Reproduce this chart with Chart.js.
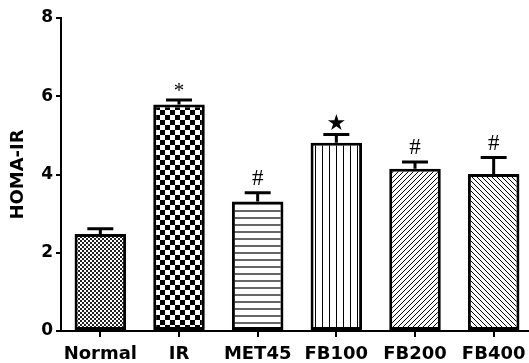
<!DOCTYPE html>
<html>
<head>
<meta charset="utf-8">
<script src="https://cdn.jsdelivr.net/npm/chart.js@4"></script>
<style>
  html, body { margin: 0; padding: 0; background: #fff; overflow: hidden; }
</style>
</head>
<body>
<canvas id="homaChart" width="533" height="363"></canvas>
<script>
// HOMA-IR per group, mean and SEM
const groups = ["Normal", "IR", "MET45", "FB100", "FB200", "FB400"];
const homaMean = [2.48, 5.79, 3.31, 4.81, 4.15, 4.01];
const homaSem = [0.17, 0.15, 0.26, 0.25, 0.21, 0.46];
const sigMarks = ["", "*", "#", "★", "#", "#"];
const yTicks = [0, 2, 4, 6, 8];

const canvas = document.getElementById("homaChart");

// small tiles used as bar fills
function makePattern(w, h, paint) {
  const tile = document.createElement("canvas");
  tile.width = w;
  tile.height = h;
  const g = tile.getContext("2d");
  g.fillStyle = "#fff";
  g.fillRect(0, 0, w, h);
  g.fillStyle = "#000";
  g.strokeStyle = "#000";
  paint(g, w, h);
  return canvas.getContext("2d").createPattern(tile, "repeat");
}

const fills = [
  // fine checks
  makePattern(4, 4, (g) => {
    g.fillStyle = "#222";
    g.fillRect(0, 0, 2, 2);
    g.fillRect(2, 2, 2, 2);
  }),
  // big checks
  makePattern(10, 10, (g) => {
    g.fillRect(0, 0, 5, 5);
    g.fillRect(5, 5, 5, 5);
  }),
  // horizontal lines
  makePattern(8, 7, (g) => {
    g.fillStyle = "#666";
    g.fillRect(0, 0, 8, 2);
  }),
  // vertical lines
  makePattern(7, 8, (g) => {
    g.fillRect(0, 0, 1, 8);
  }),
  // forward hatch
  makePattern(5, 5, (g) => {
    g.lineWidth = 1;
    g.beginPath();
    g.moveTo(0, 5); g.lineTo(5, 0);
    g.moveTo(-1, 1); g.lineTo(1, -1);
    g.moveTo(4, 6); g.lineTo(6, 4);
    g.stroke();
  }),
  // back hatch
  makePattern(5, 5, (g) => {
    g.lineWidth = 1;
    g.beginPath();
    g.moveTo(0, 0); g.lineTo(5, 5);
    g.moveTo(-1, 4); g.lineTo(1, 6);
    g.moveTo(4, -1); g.lineTo(6, 1);
    g.stroke();
  }),
];

// upper error bar + significance mark over each bar
const errorBarsAndMarks = {
  id: "errorBarsAndMarks",
  afterDatasetsDraw(chart) {
    const ctx = chart.ctx;
    const yScale = chart.scales.y;
    const bars = chart.getDatasetMeta(0).data;
    const markStyle = {
      "*": { font: "21px 'Liberation Serif'", gap: 2 },
      "#": { font: "23px 'Liberation Serif'", gap: 6 },
      "★": { font: "22px 'DejaVu Sans'", gap: 3 },
    };
    ctx.save();
    ctx.strokeStyle = "#000";
    ctx.fillStyle = "#000";
    ctx.lineWidth = 3;
    bars.forEach((bar, i) => {
      const top = yScale.getPixelForValue(homaMean[i]);
      const capY = yScale.getPixelForValue(homaMean[i] + homaSem[i]);
      ctx.beginPath();
      ctx.moveTo(bar.x, top);
      ctx.lineTo(bar.x, capY + 1.5);
      ctx.moveTo(bar.x - 13, capY + 1.5);
      ctx.lineTo(bar.x + 13, capY + 1.5);
      ctx.stroke();

      const mark = sigMarks[i];
      if (mark) {
        ctx.font = markStyle[mark].font;
        ctx.textAlign = "center";
        ctx.textBaseline = "alphabetic";
        ctx.fillText(mark, bar.x, capY - markStyle[mark].gap);
      }
    });
    ctx.restore();
  },
};

const axisFont = "'DejaVu Sans', 'Liberation Sans', sans-serif";

new Chart(canvas, {
  type: "bar",
  data: {
    labels: groups,
    datasets: [
      {
        data: homaMean,
        backgroundColor: fills,
        borderColor: "#000",
        borderWidth: 3,
        borderSkipped: false,
        categoryPercentage: 1,
        barPercentage: 0.655,
      },
    ],
  },
  options: {
    responsive: false,
    animation: false,
    layout: { padding: { top: 18, right: 0, bottom: 0, left: 0 } },
    plugins: {
      legend: { display: false },
      tooltip: { enabled: false },
    },
    scales: {
      x: {
        grid: {
          display: true,
          offset: false,
          drawOnChartArea: false,
          drawTicks: true,
          tickLength: 6,
          color: "#000",
          lineWidth: 2,
        },
        border: { display: true, color: "#000", width: 2 },
        ticks: {
          color: "#000",
          padding: 7,
          autoSkip: false,
          maxRotation: 0,
          font: { family: axisFont, size: 18, weight: "bold" },
        },
        afterFit(scale) {
          scale.height = 32;
        },
      },
      y: {
        min: yTicks[0],
        max: yTicks[yTicks.length - 1],
        afterBuildTicks(scale) {
          scale.ticks = yTicks.map((v) => ({ value: v }));
        },
        grid: {
          display: true,
          drawOnChartArea: false,
          drawTicks: true,
          tickLength: 5,
          color: "#000",
          lineWidth: 2,
        },
        border: { display: true, color: "#000", width: 2 },
        ticks: {
          color: "#000",
          padding: 3,
          font: { family: axisFont, size: 17, weight: "bold" },
        },
        title: {
          display: true,
          text: "HOMA-IR",
          color: "#000",
          padding: { top: 8, bottom: 0 },
          font: { family: axisFont, size: 18, weight: "bold" },
        },
        afterFit(scale) {
          scale.width = 61;
        },
      },
    },
  },
  plugins: [errorBarsAndMarks],
});
</script>
</body>
</html>
